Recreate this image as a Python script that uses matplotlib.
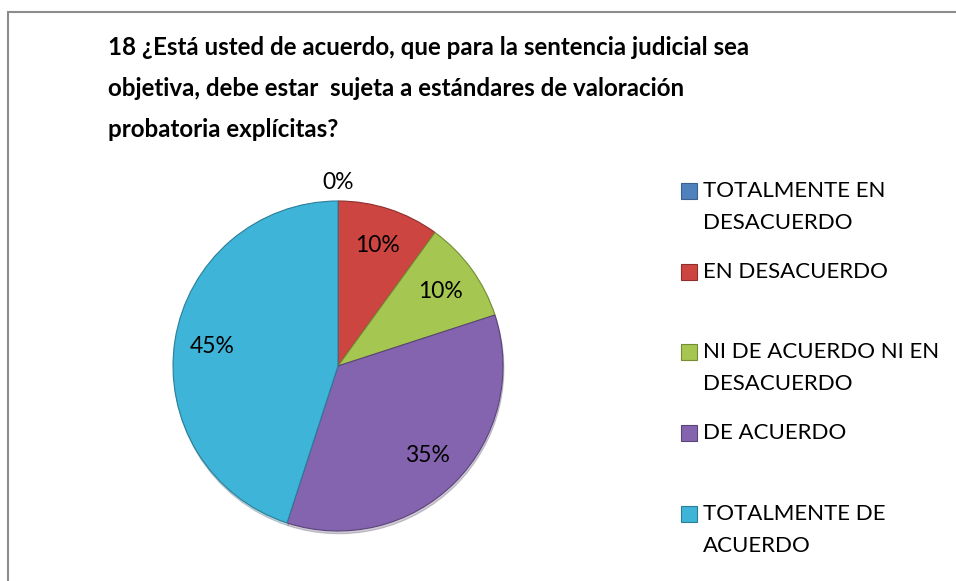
import numpy as np
import matplotlib.pyplot as plt
from matplotlib.patches import Rectangle

titulo = ('18 ¿Está usted de acuerdo, que para la sentencia judicial sea\n'
          'objetiva, debe estar  sujeta a estándares de valoración\n'
          'probatoria explícitas?')
categorias = ['TOTALMENTE EN\nDESACUERDO', 'EN DESACUERDO',
              'NI DE ACUERDO NI EN\nDESACUERDO', 'DE ACUERDO',
              'TOTALMENTE DE\nACUERDO']
porcentajes = [0, 10, 10, 35, 45]
colores = ['#4F81BD', '#CD4541', '#A5C650', '#8464AE', '#3EB4D8']
bordes = ['#3A6090', '#8E2F2C', '#748D35', '#5A4478', '#2A7E98']

plt.rcParams['font.family'] = ['Lato', 'DejaVu Sans']

W, H = 956, 581
fig = plt.figure(figsize=(W / 100, H / 100), dpi=100)

# marco gris del grafico
fig.patches.append(Rectangle((8 / W, -0.1), 1.0, 1.1 - 12 / H, transform=fig.transFigure,
                             fill=False, edgecolor='#8c8c8c', lw=1.5))

fig.text(108 / W, 1 - 36 / H, titulo, ha='left', va='top', fontsize=17.4,
         fontweight='bold', linespacing=1.95)

# pastel
cx, cy, r = 338, 366, 165
ax = fig.add_axes([(cx - r) / W, (H - cy - r) / H, 2 * r / W, 2 * r / H])
wedges, textos, autos = ax.pie(porcentajes, colors=colores, startangle=90, counterclock=False,
                               autopct='%1.0f%%', pctdistance=0.77,
                               wedgeprops=dict(linewidth=0.8),
                               textprops=dict(fontsize=16.5, color='black'),
                               shadow=dict(ox=0.004, oy=-0.012, shade=0.5, alpha=0.25))
for w, b in zip(wedges, bordes):
    w.set_edgecolor(b)
for w, t, v in zip(wedges, autos, porcentajes):
    if v == 0:
        ang = np.deg2rad(w.theta1)
        t.set_position((1.115 * np.cos(ang), 1.115 * np.sin(ang)))
ax.set_xlim(-1, 1)
ax.set_ylim(-1, 1)

# leyenda
y0, paso = 191, 80.7
for i, (cat, col) in enumerate(zip(categorias, colores)):
    yc = y0 + i * paso
    fig.patches.append(Rectangle((681 / W, 1 - (yc + 8) / H), 16 / W, 16 / H,
                                 transform=fig.transFigure, facecolor=col,
                                 edgecolor=bordes[i], lw=0.8))
    fig.text(703 / W, 1 - (yc - 10) / H, cat, ha='left', va='top', fontsize=16,
             linespacing=1.75)

fig.savefig('out.png', dpi=100)
